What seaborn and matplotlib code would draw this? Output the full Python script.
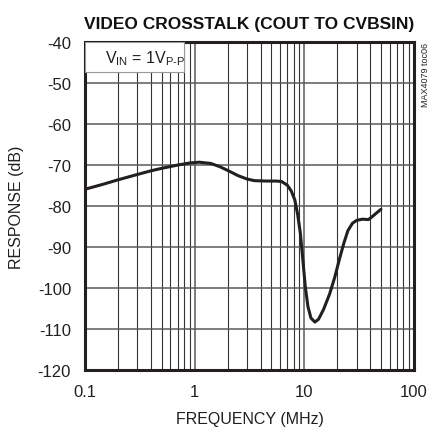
import numpy as np
import pandas as pd
import seaborn as sns
import matplotlib.pyplot as plt
from matplotlib.patches import Rectangle

# values
freq_mhz = [0.1, 0.15, 0.2, 0.3, 0.4, 0.5, 0.7, 0.9, 1.1, 1.4, 1.7, 2.0, 2.5, 3.0,
            3.5, 4.5, 5.5, 6.2, 7.0, 7.6, 8.2, 8.7, 9.2, 9.7, 10.2, 10.8, 11.5,
            12.5, 13.5, 15, 17, 19, 21, 23, 25, 27.5, 30, 34, 38.5, 42, 46, 50]
response_db = [-75.9, -74.6, -73.6, -72.3, -71.4, -70.8, -70.0, -69.5, -69.3, -69.6,
               -70.4, -71.3, -72.6, -73.4, -73.8, -73.9, -73.9, -74.0, -74.9, -76.3,
               -78.5, -82.0, -86.5, -93.0, -99.5, -104.5, -107.3, -108.3, -107.6,
               -105.2, -101.5, -97.3, -92.8, -89.0, -86.0, -84.2, -83.5, -83.2,
               -83.3, -82.5, -81.6, -80.8]
y_ticks = [-40, -50, -60, -70, -80, -90, -100, -110, -120]
x_ticks = [0.1, 1, 10, 100]
x_ticklabels = ["0.1", "1", "10", "100"]

df = pd.DataFrame({"freq": freq_mhz, "resp": response_db})

sns.set_style("white")
fam = ["Liberation Sans Narrow", "DejaVu Sans Condensed", "Liberation Sans", "DejaVu Sans"]
plt.rcParams["font.family"] = fam
plt.rcParams["mathtext.fontset"] = "custom"
plt.rcParams["mathtext.rm"] = "Liberation Sans"

fig = plt.figure(figsize=(4.38, 4.35), dpi=100)
ax = fig.add_axes([0.194, 0.147, 0.751, 0.754])

sns.lineplot(data=df, x="freq", y="resp", ax=ax, color="#231f20", lw=2.2, zorder=5)

ax.set_xscale("log")
ax.set_xlim(0.1, 100)
ax.set_ylim(-120, -40)
ax.set_yticks(y_ticks)
ax.set_yticklabels([str(t) for t in y_ticks])
ax.set_xticks(x_ticks)
ax.set_xticklabels(x_ticklabels)
ax.grid(True, which="major", axis="both", color="#5a5a5a", lw=1.1, zorder=0)
ax.grid(True, which="minor", axis="x", color="#333333", lw=0.8, zorder=0)
ax.tick_params(axis="both", which="both", length=0, labelsize=12, colors="#231f20")
ax.tick_params(axis="y", pad=10)
ax.tick_params(axis="x", pad=10)
for s in ax.spines.values():
    s.set_linewidth(2.2)
    s.set_color("#231f20")

ax.set_xlabel("FREQUENCY (MHz)", fontsize=11.5, color="#231f20", labelpad=9)
ax.set_ylabel("RESPONSE (dB)", fontsize=11.5, color="#231f20", labelpad=10)
ax.set_title("VIDEO CROSSTALK (COUT TO CVBSIN)", fontsize=12.5, fontweight="bold",
             color="#111111", pad=10)

ax.add_patch(Rectangle((0, 0.909), 0.30, 0.091, transform=ax.transAxes,
                       facecolor="white", edgecolor="#999999", lw=0.8, zorder=3))
ax.text(0.06, 0.953, "$\\mathregular{V_{IN}}$ = 1$\\mathregular{V_{P\u2010P}}$",
        transform=ax.transAxes, fontsize=11.5, va="center", ha="left",
        color="#231f20", zorder=4)

fig.text(0.972, 0.901, "MAX4079 toc06", rotation=90, fontsize=6.5, va="top",
         ha="center", color="#231f20")

fig.savefig("out.png", dpi=100)
